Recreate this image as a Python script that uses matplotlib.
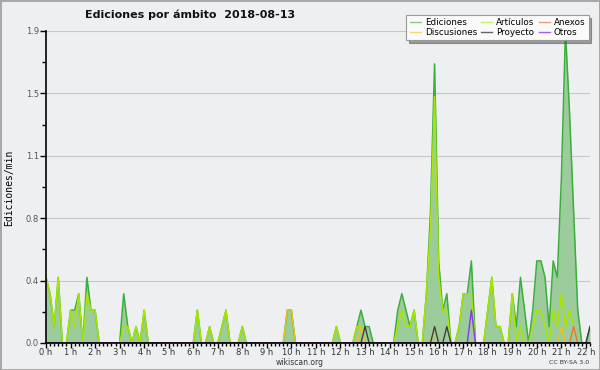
import numpy as np
import matplotlib
matplotlib.use('Agg')
import matplotlib.pyplot as plt
from matplotlib.lines import Line2D
from matplotlib.ticker import MultipleLocator, FixedLocator

# edits per minute, one value per 10-minute bin, one row per hour (0h .. 22h)
ediciones = [
    0.4, 0.3, 0.1, 0.4, 0.0, 0.0,
    0.2, 0.2, 0.3, 0.0, 0.4, 0.2,
    0.2, 0.0, 0.0, 0.0, 0.0, 0.0,
    0.0, 0.3, 0.1, 0.0, 0.1, 0.0,
    0.2, 0.0, 0.0, 0.0, 0.0, 0.0,
    0.0, 0.0, 0.0, 0.0, 0.0, 0.0,
    0.0, 0.2, 0.0, 0.0, 0.1, 0.0,
    0.0, 0.1, 0.2, 0.0, 0.0, 0.0,
    0.1, 0.0, 0.0, 0.0, 0.0, 0.0,
    0.0, 0.0, 0.0, 0.0, 0.0, 0.2,
    0.2, 0.0, 0.0, 0.0, 0.0, 0.0,
    0.0, 0.0, 0.0, 0.0, 0.0, 0.1,
    0.0, 0.0, 0.0, 0.0, 0.1, 0.2,
    0.1, 0.1, 0.0, 0.0, 0.0, 0.0,
    0.0, 0.0, 0.2, 0.3, 0.2, 0.1,
    0.2, 0.0, 0.0, 0.3, 0.8, 1.7,
    0.5, 0.2, 0.3, 0.0, 0.0, 0.1,
    0.3, 0.3, 0.5, 0.0, 0.0, 0.0,
    0.2, 0.4, 0.1, 0.1, 0.0, 0.0,
    0.3, 0.1, 0.4, 0.2, 0.0, 0.2,
    0.5, 0.5, 0.4, 0.1, 0.5, 0.4,
    1.0, 1.9, 1.4, 0.8, 0.2, 0.0,
    0.0, 0.1,
]
articulos = [
    0.4, 0.3, 0.1, 0.4, 0.0, 0.0,
    0.2, 0.1, 0.3, 0.0, 0.3, 0.2,
    0.2, 0.0, 0.0, 0.0, 0.0, 0.0,
    0.0, 0.1, 0.1, 0.0, 0.1, 0.0,
    0.2, 0.0, 0.0, 0.0, 0.0, 0.0,
    0.0, 0.0, 0.0, 0.0, 0.0, 0.0,
    0.0, 0.2, 0.0, 0.0, 0.1, 0.0,
    0.0, 0.1, 0.2, 0.0, 0.0, 0.0,
    0.1, 0.0, 0.0, 0.0, 0.0, 0.0,
    0.0, 0.0, 0.0, 0.0, 0.0, 0.0,
    0.0, 0.0, 0.0, 0.0, 0.0, 0.0,
    0.0, 0.0, 0.0, 0.0, 0.0, 0.1,
    0.0, 0.0, 0.0, 0.0, 0.1, 0.1,
    0.0, 0.0, 0.0, 0.0, 0.0, 0.0,
    0.0, 0.0, 0.1, 0.2, 0.1, 0.1,
    0.2, 0.0, 0.0, 0.3, 0.7, 1.5,
    0.4, 0.2, 0.2, 0.0, 0.0, 0.1,
    0.3, 0.3, 0.3, 0.0, 0.0, 0.0,
    0.2, 0.4, 0.1, 0.1, 0.0, 0.0,
    0.3, 0.0, 0.1, 0.0, 0.0, 0.1,
    0.2, 0.2, 0.1, 0.0, 0.2, 0.1,
    0.3, 0.1, 0.2, 0.1, 0.0, 0.0,
    0.0, 0.0,
]
# smaller namespaces: {bin index: edits/min}
discusiones = {59: 0.2, 60: 0.2, 77: 0.1, 95: 0.1, 126: 0.1}
proyecto = {78: 0.1, 95: 0.1, 98: 0.1, 133: 0.1}
anexos = {129: 0.1}
otros = {104: 0.2}

hour_labels = ['%d h' % h for h in range(23)]

BG = '#edeff1'
C_ED = '#3cae3c'
C_ART = '#a8e600'
C_DISC = '#f0c020'
C_PROY = '#404040'
C_ANEX = '#f07038'
C_OTR = '#8838e8'

n = len(ediciones)
x = np.arange(n) / 6.0


def full(d):
    s = np.zeros(n)
    for k, v in d.items():
        s[k] = v
    return s


fig = plt.figure(figsize=(6, 3.7), dpi=100)
fig.patch.set_facecolor(BG)
fig.patch.set_edgecolor('#a8a8a8')
fig.patch.set_linewidth(2)

ax = fig.add_axes([46 / 600, 1 - 343 / 370, 544 / 600, 312 / 370])
ax.set_facecolor(BG)

ax.fill_between(x, ediciones, color='#9ccc9c', lw=0, zorder=1)
ax.plot(x, ediciones, color=C_ED, lw=1.1, zorder=2)
ax.plot(x, articulos, color=C_ART, lw=1.1, zorder=2)
ax.plot(x, full(discusiones), color=C_DISC, lw=1.0, zorder=2)
ax.plot(x, full(proyecto), color=C_PROY, lw=1.0, zorder=2)
ax.plot(x, full(anexos), color=C_ANEX, lw=1.0, zorder=2)
ax.plot(x, full(otros), color=C_OTR, lw=1.0, zorder=2)

ymax = max(ediciones)
ax.set_xlim(0, x[-1])
ax.set_ylim(0, ymax)

yt = np.linspace(0, ymax, 6)
ax.yaxis.set_major_locator(FixedLocator(yt))
ax.set_yticklabels(['%.1f' % v for v in yt])
ax.yaxis.set_minor_locator(FixedLocator(np.linspace(0, ymax, 11)))
ax.set_xticks(range(23))
ax.set_xticklabels(hour_labels)
ax.xaxis.set_minor_locator(MultipleLocator(1 / 6))

ax.tick_params(axis='y', which='major', length=4, width=1, labelsize=6, labelcolor='#555555', pad=1)
ax.tick_params(axis='y', which='minor', length=3, width=1)
ax.tick_params(axis='x', which='major', length=3.5, width=1, labelsize=6, labelcolor='#333333', pad=0)
ax.tick_params(axis='x', which='minor', length=2.5, width=1)

ax.yaxis.grid(True, color='#c8c8c8', lw=0.8)
ax.set_axisbelow(True)
for s in ['top', 'right']:
    ax.spines[s].set_visible(False)
for s in ['left', 'bottom']:
    ax.spines[s].set_linewidth(1.2)
    ax.spines[s].set_zorder(3)

fig.text(85 / 600, 1 - 18.5 / 370, 'Ediciones por ámbito  2018-08-13',
         fontsize=8, fontweight='bold', ha='left', va='baseline', color='#111111')
fig.text(9.5 / 600, 0.492, 'Ediciones/min', rotation=90, fontsize=7,
         family='DejaVu Sans Mono', ha='center', va='center')
fig.text(300 / 600, 1 - 362.5 / 370, 'wikiscan.org', fontsize=5.5,
         ha='center', va='center', color='#333333')
fig.text(589 / 600, 1 - 362.5 / 370, 'CC BY-SA 3.0', fontsize=4.5,
         ha='right', va='center', color='#333333')

# legend, column-major order for three columns
handles = [
    Line2D([], [], color=C_ED, lw=1, alpha=0.6),
    Line2D([], [], color=C_DISC, lw=1, alpha=0.6),
    Line2D([], [], color=C_ART, lw=1, alpha=0.6),
    Line2D([], [], color=C_PROY, lw=1, alpha=0.8),
    Line2D([], [], color=C_ANEX, lw=1, alpha=0.7),
    Line2D([], [], color=C_OTR, lw=1, alpha=0.8),
]
labels = ['Ediciones', 'Discusiones', 'Artículos', 'Proyecto', 'Anexos', 'Otros']
leg = fig.legend(handles, labels, ncol=3, loc='upper right',
                 bbox_to_anchor=(593 / 600, 1 - 11 / 370), fontsize=6.3,
                 handlelength=1.3, handletextpad=0.45, columnspacing=0.45,
                 labelspacing=0.05, borderpad=0.35, frameon=True,
                 fancybox=False, shadow=True, framealpha=1)
leg.get_frame().set_facecolor('#fafafa')
leg.get_frame().set_edgecolor('#999999')
leg.get_frame().set_linewidth(0.8)

fig.savefig('out.png', dpi=100, facecolor=fig.get_facecolor(),
            edgecolor=fig.get_edgecolor())
